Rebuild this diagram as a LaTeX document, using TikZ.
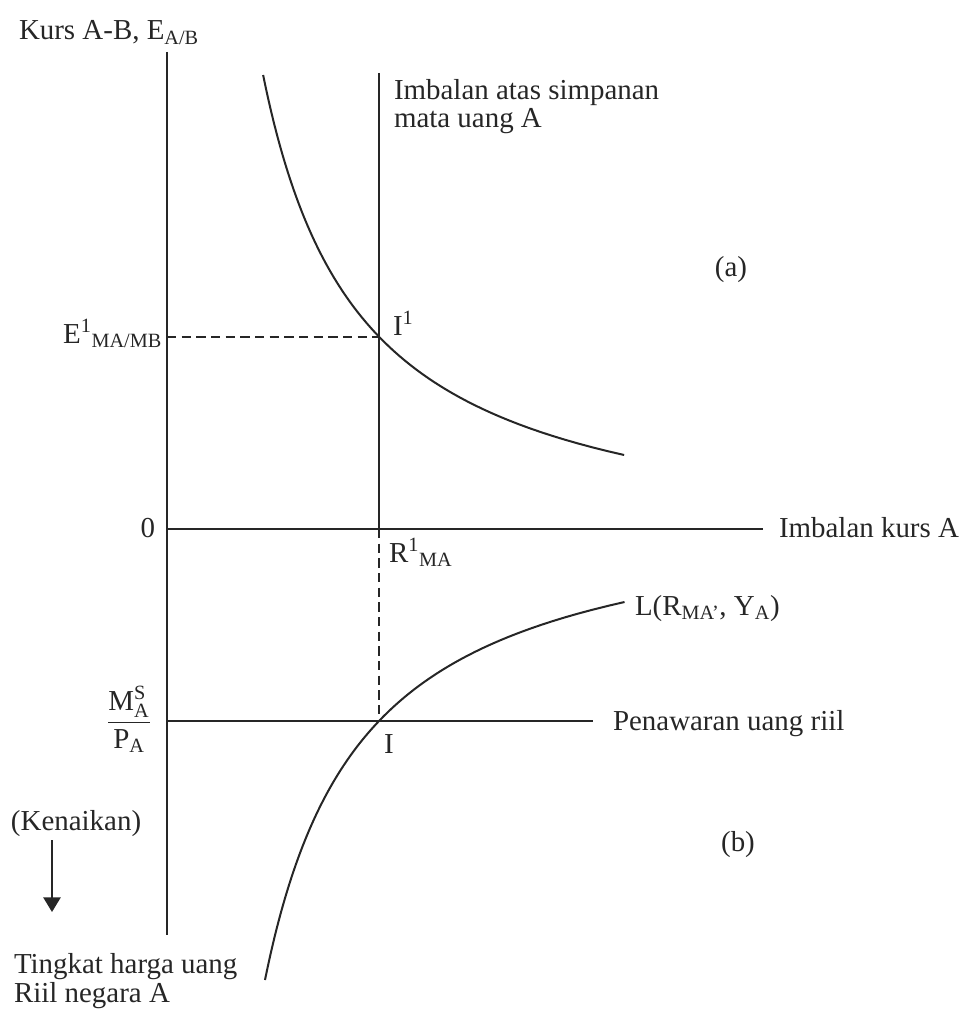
\documentclass[tikz,border=0pt]{standalone}
\usepackage{amsmath}
\usepackage{fontspec}
\setmainfont{Liberation Serif}
\usetikzlibrary{arrows.meta}
\definecolor{ink}{HTML}{262626}
\tikzset{every picture/.style={line width=1.5pt}}

\begin{document}
\begin{tikzpicture}[x=0.75pt,y=0.75pt,yscale=-1,xscale=1,
	lbl/.style={inner sep=0pt,text=ink,font=\fontsize{21.7}{26}\selectfont},
	dashline/.style={draw=ink,dash pattern={on 7pt off 4pt}}]
	\useasboundingbox (0,0) rectangle (961,1009);
	
	% points of the two panels
	\coordinate (ytop) at (167,52);
	\coordinate (ybot) at (167,935);
	\coordinate (O) at (167,529);
	\coordinate (xend) at (763,529);
	\coordinate (Rtop) at (379,73);
	\coordinate (R1) at (379,529);
	\coordinate (E1) at (167,337);
	\coordinate (I1) at (379,337);
	\coordinate (MS) at (167,721);
	\coordinate (I) at (379,721);
	\coordinate (MSend) at (593,721);
	\coordinate (Ktop) at (52,840);
	\coordinate (Kbot) at (52,912);
	
	%Straight Lines (axes)
	\draw [ink] (ytop) -- (ybot) ;
	\draw [ink] (O) -- (xend) ;
	%Straight Lines (return on deposits)
	\draw [ink] (Rtop) -- (R1) ;
	%Straight Lines (real money supply)
	\draw [ink] (MS) -- (MSend) ;
	%Dashed Lines
	\draw [dashline] (E1) -- (I1) ;
	\draw [dashline] (R1) -- (I) ;
	%Curve (a)
	\draw [ink] plot[domain=75:455,samples=100] ({165+474/((558.3-\x)*0.01)},\x) ;
	%Curve (b)
	\draw [ink] plot[domain=602:980,samples=100] ({167.5+468.2/((\x-499.5)*0.01)},\x) ;
	%Arrow
	\draw [ink,line width=1.2pt,-{Triangle[length=11pt,width=13pt]}] (Ktop) -- (Kbot) ;
	
	% Text Node
	\draw (18,40) node (kurs) [lbl,anchor=base west] {Kurs A-B, E\textsubscript{A/B}};
	% Text Node
	\draw (393,100) node (imb1) [lbl,anchor=base west] {Imbalan atas simpanan};
	% Text Node
	\draw (393,128) node (imb2) [lbl,anchor=base west] {mata uang A};
	% Text Node
	\draw (731,270) node (pa) [lbl] {(a)};
	% Text Node
	\draw (163,343) node (e1lbl) [lbl,anchor=base east] {E\textsuperscript{1}\textsubscript{MA/MB}};
	% Text Node
	\draw (392,335) node (i1lbl) [lbl,anchor=base west] {I\textsuperscript{1}};
	% Text Node
	\draw (156,537) node (zero) [lbl,anchor=base east] {0};
	% Text Node
	\draw (778,537) node (kursA) [lbl,anchor=base west] {Imbalan kurs A};
	% Text Node
	\draw (388,562) node (r1lbl) [lbl,anchor=base west] {R\textsuperscript{1}\textsubscript{MA}};
	% Text Node
	\draw (634,615) node (llbl) [lbl,anchor=base west] {L(R\textsubscript{MA’}, Y\textsubscript{A})};
	% Text Node
	\draw (129,719) node (frac) [lbl] {$\dfrac{\text{M}^{\text{S}}_{\text{A}}}{\text{P}_{\text{A}}}$};
	% Text Node
	\draw (612,730) node (supply) [lbl,anchor=base west] {Penawaran uang riil};
	% Text Node
	\draw (383,753) node (ilbl) [lbl,anchor=base west] {I};
	% Text Node
	\draw (10,830) node (naik) [lbl,anchor=base west] {(Kenaikan)};
	% Text Node
	\draw (738,845) node (pb) [lbl] {(b)};
	% Text Node
	\draw (13,973) node (harga1) [lbl,anchor=base west] {Tingkat harga uang};
	% Text Node
	\draw (13,1002) node (harga2) [lbl,anchor=base west] {Riil negara A};
\end{tikzpicture}
\end{document}
